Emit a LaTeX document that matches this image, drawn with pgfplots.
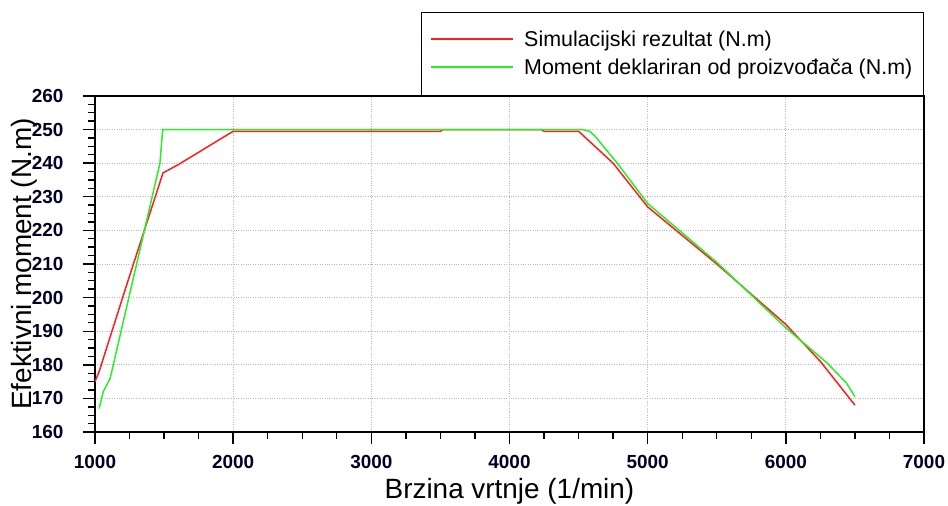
\documentclass[border=0pt]{standalone}
\usepackage{fontspec}
\setmainfont{Liberation Sans}
\usepackage{pgfplots}
\pgfplotsset{compat=1.18}

\definecolor{simred}{RGB}{255,30,30}
\definecolor{decgreen}{RGB}{40,240,40}

\begin{document}
\begin{tikzpicture}
\begin{axis}[
    at={(0,0)}, anchor=south west,
    scale only axis, width=829bp, height=336bp,
    xmin=1000, xmax=7000, ymin=160, ymax=260,
    xtick={1000,2000,...,7000}, ytick={160,170,...,260},
    minor x tick num=3, minor y tick num=3,
    xtick pos=left, ytick pos=left,
    tick align=outside, major tick length=12bp, minor tick length=7bp,
    every tick/.style={black, line width=1.4bp},
    axis line style={line width=1.6bp},
    grid=major, major grid style={dotted, gray!55, line width=0.8bp},
    /pgf/number format/assume math mode=true,
    /pgf/number format/set thousands separator={},
    ticklabel style={font=\fontsize{19}{19}\selectfont\bfseries, text=black!85!blue},
    xticklabel style={yshift=-8bp},
    yticklabel style={xshift=-16bp},
    xlabel={Brzina vrtnje (1/min)},
    ylabel={Efektivni moment (N.m)},
    label style={font=\fontsize{28}{28}\selectfont},
    xlabel style={at={(axis description cs:0.5,0)}, anchor=center, yshift=-59bp},
    ylabel style={at={(axis description cs:0,0.5)}, anchor=center, yshift=71bp},
    legend style={at={(rel axis cs:1,1)}, anchor=south east,
        font=\fontsize{21.5}{23}\selectfont,
        inner xsep=9bp, inner ysep=17bp, row sep=7bp},
    every axis legend/.append style={line width=1.4bp},
    legend cell align=left,
    legend image code/.code={%
        \draw[#1, line width=1.8bp] (0bp,0.4bp) -- (82bp,0.4bp);
        \path (90bp,0bp);},
]
\addplot[simred, line width=1.5bp] coordinates {
(1000,175) (1030,178) (1231,204) (1492,237.1) (1600,239.5) (2000,249.5)
(3500,249.5) (3520,250) (4230,250) (4250,249.5) (4500,249.5)
(4750,240) (5000,227) (5500,210) (6000,192) (6250,181) (6500,168)
};
\addlegendentry{Simulacijski rezultat (N.m)}
\addplot[decgreen, line width=1.5bp] coordinates {
(1030,167) (1060,172) (1110,176) (1470,240) (1490,250)
(4530,250) (4580,249.5) (4620,248) (4780,240) (5000,228)
(5500,210.5) (6000,191) (6300,180.5) (6440,174.5) (6500,170.5)
};
\addlegendentry{Moment deklariran od proizvođača (N.m)}
\end{axis}
\pgfresetboundingbox
\path (-95bp,-74bp) rectangle (853bp,432bp);
\end{tikzpicture}
\end{document}
